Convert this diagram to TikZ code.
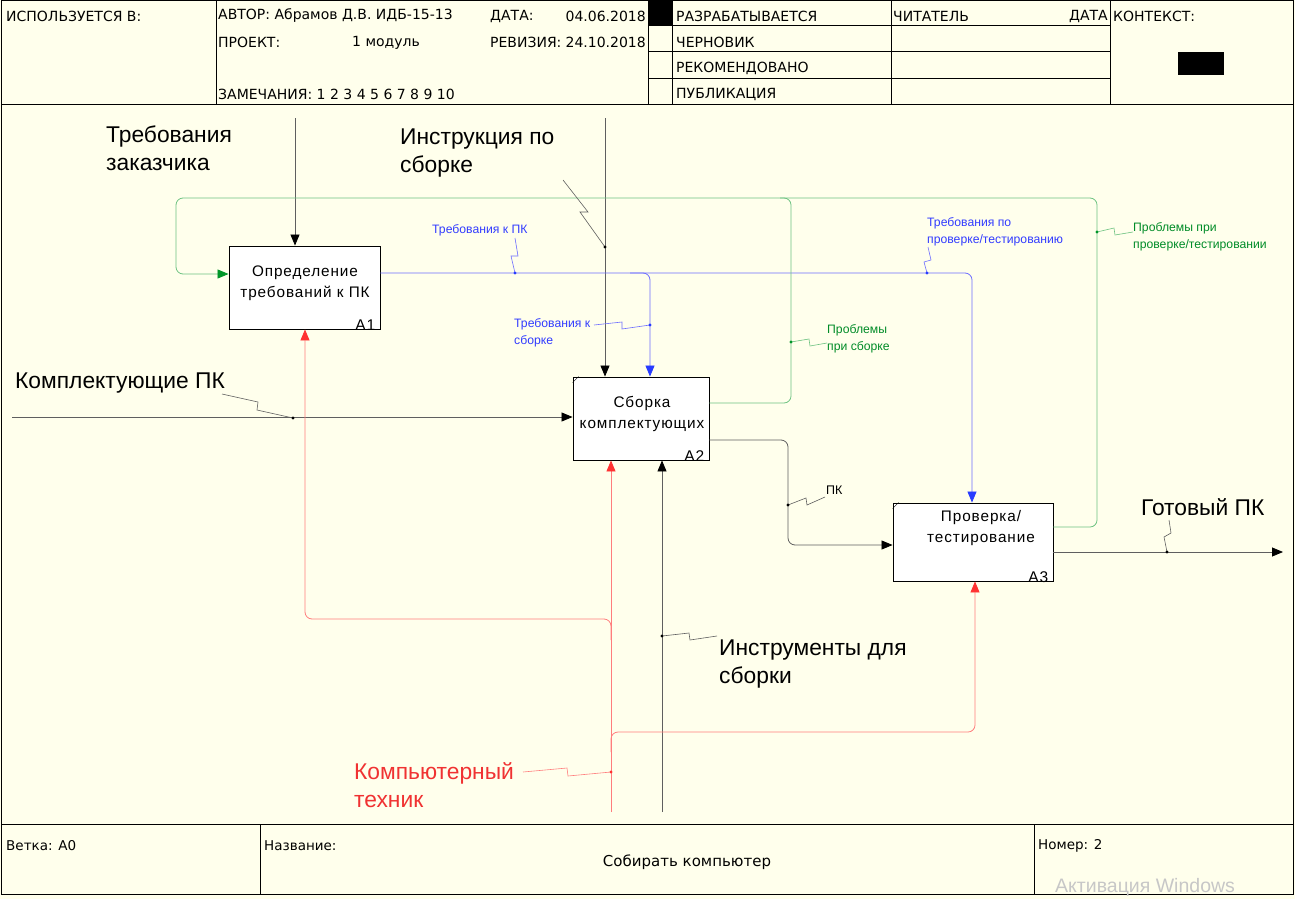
\documentclass[tikz,border=0pt]{standalone}
\usepackage{fontspec}
\setmainfont{Liberation Sans}
\newfontfamily\boxfont[LetterSpace=6]{Liberation Sans}
\newfontfamily\hdrfont{DejaVu Sans}
\usetikzlibrary{arrows.meta}
\definecolor{bg}{RGB}{255,255,236}
\definecolor{lineblk}{RGB}{95,95,95}
\definecolor{lineblue}{RGB}{110,110,255}
\definecolor{linegreen}{RGB}{110,195,130}
\definecolor{linered}{RGB}{255,125,125}
\definecolor{tipblue}{RGB}{40,60,255}
\definecolor{tipgreen}{RGB}{0,150,40}
\definecolor{tipred}{RGB}{255,50,50}
\definecolor{txtblue}{RGB}{50,60,255}
\definecolor{txtgreen}{RGB}{0,140,40}
\definecolor{txtred}{RGB}{240,50,50}
\tikzset{
  hdr/.style={anchor=west,inner sep=0,font=\hdrfont\fontsize{14}{15}\selectfont},
  ftr/.style={anchor=west,inner sep=0,font=\hdrfont\fontsize{13.5}{15}\selectfont},
  biglbl/.style={anchor=west,inner sep=0,align=left,font=\fontsize{22.8}{28.5}\selectfont},
  smalllbl/.style={anchor=west,inner sep=0,align=left,font=\fontsize{12.2}{17}\selectfont},
  boxst/.style={draw=black,fill=white,line width=0.9pt,inner sep=0},
  boxtxt/.style={inner sep=0,align=center,font=\boxfont\fontsize{15.3}{20.5}\selectfont},
  boxnum/.style={inner sep=0,anchor=south east,font=\boxfont\fontsize{15.5}{16}\selectfont},
  lnblk/.style={draw=lineblk,line width=0.8pt,rounded corners=7pt},
  lnblue/.style={draw=lineblue,line width=0.8pt,rounded corners=7pt},
  lngreen/.style={draw=linegreen,line width=0.8pt,rounded corners=7pt},
  lnred/.style={draw=linered,line width=0.8pt,rounded corners=7pt},
  tipk/.style={-{Triangle[length=11pt,width=9pt,color=black]}},
  tipb/.style={-{Triangle[length=11pt,width=9pt,color=tipblue]}},
  tipg/.style={-{Triangle[length=11pt,width=9pt,color=tipgreen]}},
  tipr/.style={-{Triangle[length=11pt,width=9pt,color=tipred]}},
  sqk/.style={draw=lineblk,line width=0.6pt},
  sqb/.style={draw=lineblue,line width=0.6pt},
  sqg/.style={draw=linegreen,line width=0.6pt},
  sqr/.style={draw=linered,line width=0.6pt},
  frame/.style={draw=black,line width=1pt},
}
\begin{document}
\begin{tikzpicture}[x=1pt,y=-1pt]
\useasboundingbox (0,0) rectangle (1295,899);
\fill[bg] (0,0) rectangle (1295,899);
% frame
\draw[frame] (1,0.5) rectangle (1293.5,894);
\draw[frame] (1,104) -- (1293.5,104);
\draw[frame] (216,0) -- (216,104);
\draw[frame] (648,0) -- (648,104);
\draw[frame] (672,0) -- (672,104);
\draw[frame] (891,0) -- (891,104);
\draw[frame] (1110,0) -- (1110,104);
\draw[frame] (648,26) -- (1110,26);
\draw[frame] (648,52) -- (1110,52);
\draw[frame] (648,78) -- (1110,78);
\fill[black] (648,0) rectangle (672,26);
\fill[black] (1178,52) rectangle (1224,75);
\draw[frame] (1,824) -- (1293.5,824);
\draw[frame] (260,824) -- (260,894);
\draw[frame] (1034,824) -- (1034,894);
% header text
\node[hdr] (h1) at (6,16) {ИСПОЛЬЗУЕТСЯ В:};
\node[hdr] (h2) at (218,16) {АВТОР: Абрамов Д.В. ИДБ-15-13};
\node[hdr] (h3) at (490,16) {ДАТА:};
\node[hdr,anchor=east] (h4) at (646,16) {04.06.2018};
\node[hdr] (h5) at (218,42) {ПРОЕКТ:};
\node[hdr] (h6) at (352,43) {1 модуль};
\node[hdr] (h7) at (490,42) {РЕВИЗИЯ:};
\node[hdr,anchor=east] (h8) at (646,42) {24.10.2018};
\node[hdr] (h9) at (218,94) {ЗАМЕЧАНИЯ:\ 1 2 3 4 5 6 7 8 9 10};
\node[hdr] (h10) at (676,16) {РАЗРАБАТЫВАЕТСЯ};
\node[hdr] (h11) at (676,42) {ЧЕРНОВИК};
\node[hdr] (h12) at (676,68) {РЕКОМЕНДОВАНО};
\node[hdr] (h13) at (676,94) {ПУБЛИКАЦИЯ};
\node[hdr] (h14) at (893,16) {ЧИТАТЕЛЬ};
\node[hdr,anchor=east] (h15) at (1108,16) {ДАТА};
\node[hdr] (h16) at (1113,16) {КОНТЕКСТ:};
% footer text
\node[ftr] (f1) at (6,846) {Ветка: А0};
\node[ftr] (f2) at (264,846) {Название:};
\node[ftr,anchor=center,font=\hdrfont\fontsize{15}{17}\selectfont] (f3) at (687,862) {Собирать компьютер};
\node[ftr] (f4) at (1038,846) {Номер: 2};
\node[anchor=west,inner sep=0,text=black!22,font=\fontsize{19.5}{21}\selectfont] (f5) at (1055,887) {Активация Windows};
% boxes
\node[boxst,minimum width=151pt,minimum height=83pt] (A1) at (304.5,287.5) {};
\node[boxst,minimum width=136pt,minimum height=83pt] (A2) at (641,418.5) {};
\node[boxst,minimum width=160pt,minimum height=78pt] (A3) at (973,542) {};
\node[boxtxt] (A1t) at (305,283) {Определение\\требований к ПК};
\node[boxtxt] (A2t) at (642,414) {Сборка\\комплектующих};
\node[boxtxt] (A3t) at (981,528) {Проверка/\\тестирование};
\node[boxnum] (A1n) at ([xshift=-5pt,yshift=-1pt]A1.south east) {А1};
\node[boxnum] (A2n) at ([xshift=-5pt,yshift=-1pt]A2.south east) {А2};
\node[boxnum] (A3n) at ([xshift=-5pt,yshift=-1pt]A3.south east) {А3};
\draw[line width=0.5pt] (A2.north west) ++(0,6) -- ++(6,-6);
\draw[line width=0.5pt] (A3.north west) ++(0,6) -- ++(6,-6);
% coordinates
\coordinate (tzIn) at (295,118);
\coordinate (insIn) at (605,118);
\coordinate (kpIn) at (12,417);
\coordinate (toolIn) at (662,812);
\coordinate (techIn) at (611,812);
\coordinate (outEnd) at (1283,552);
\coordinate (bX3) at (972,0);
\coordinate (bX2) at (650,0);
\coordinate (rX1) at (305,0);
\coordinate (rX3) at (975,0);
\coordinate (yA1o) at (0,273);
\coordinate (yA1i) at (0,274);
\coordinate (yA2g) at (0,403);
\coordinate (yA2o) at (0,440);
\coordinate (yA3i) at (0,545);
\coordinate (yA3g) at (0,527);
% black inputs/controls
\draw[lnblk,tipk] (tzIn) -- (tzIn |- A1.north);
\draw[lnblk,tipk] (insIn) -- (insIn |- A2.north);
\draw[lnblk,tipk] (kpIn) -- (kpIn -| A2.west);
\draw[lnblk,tipk] (toolIn) -- (toolIn |- A2.south);
\draw[lnblk,tipk] (A2.east |- yA2o) -- (788,440) -- (788,545) -- (A3.west |- yA3i);
\draw[lnblk,tipk] (A3.east |- outEnd) -- (outEnd);
% blue
\draw[lnblue,tipb] (A1.east |- yA1o) -- (972,273) -- (bX3 |- A3.north);
\draw[lnblue,tipb] (630,273) -- (650,273) -- (bX2 |- A2.north);
% green
\draw[lngreen,tipg] (A2.east |- yA2g) -- (791,403) -- (791,198) -- (176,198) -- (176,274) -- (A1.west |- yA1i);
\draw[lngreen] (A3.east |- yA3g) -- (1097,527) -- (1097,198) -- (780,198);
% red
\draw[lnred,tipr] (techIn) -- (techIn |- A2.south);
\draw[lnred,tipr] (611,640) -- (611,619) -- (305,619) -- (rX1 |- A1.south);
\draw[lnred,tipr] (611,752) -- (611,732) -- (975,732) -- (rX3 |- A3.south);
% squiggles
\draw[sqb] (515,273) -- (511,256) -- (518,256) -- (515,238);
\draw[sqb] (650,325) -- (622,329) -- (622,322) -- (594,325);
\draw[sqb] (927,273) -- (924,262) -- (931,260) -- (928,247);
\draw[sqg] (791,342) -- (809,339) -- (810,346) -- (827,343);
\draw[sqg] (1097,232) -- (1114,228) -- (1115,235) -- (1133,232);
\draw[sqk] (563,180) -- (588,212) -- (580,212) -- (605,247);
\draw[sqk] (222,394) -- (258,402) -- (257,410) -- (293,418);
\draw[sqk] (788,505) -- (806,498) -- (807,505) -- (825,497);
\draw[sqk] (1167,552) -- (1164,537) -- (1171,533) -- (1169,520);
\draw[sqk] (662,636) -- (689,633) -- (690,640) -- (717,636);
\draw[sqr] (611,772) -- (568,776) -- (567,768) -- (523,772);
% dots
\fill[tipblue] (515,273) circle (1.6pt);
\fill[tipblue] (650,325) circle (1.6pt);
\fill[tipblue] (927,273) circle (1.6pt);
\fill[tipgreen] (791,342) circle (1.6pt);
\fill[tipgreen] (1097,232) circle (1.6pt);
\fill[black] (605,247) circle (1.6pt);
\fill[black] (293,418) circle (1.6pt);
\fill[black] (788,505) circle (1.6pt);
\fill[black] (1167,552) circle (1.6pt);
\fill[black] (662,636) circle (1.6pt);
\fill[tipred] (611,772) circle (1.6pt);
% labels
\node[biglbl] (l1) at (106,148) {Требования\\заказчика};
\node[biglbl] (l2) at (400,153) {Инструкция по\\сборке};
\node[biglbl] (l3) at (15,383) {Комплектующие ПК};
\node[biglbl] (l4) at (719,664) {Инструменты для\\сборки};
\node[biglbl,text=txtred] (l5) at (354,785) {Компьютерный\\техник};
\node[biglbl] (l6) at (1141,507) {Готовый ПК};
\node[smalllbl,text=txtblue] (s1) at (432,230) {Требования к ПК};
\node[smalllbl,text=txtblue] (s2) at (514,333) {Требования к\\сборке};
\node[smalllbl,text=txtblue] (s3) at (927,232) {Требования по\\проверке/тестированию};
\node[smalllbl,text=txtgreen] (s4) at (827,339) {Проблемы\\при сборке};
\node[smalllbl,text=txtgreen] (s5) at (1133,237) {Проблемы при\\проверке/тестировании};
\node[smalllbl,font=\fontsize{12.5}{14}\selectfont] (s6) at (826,490) {ПК};
\end{tikzpicture}
\end{document}
